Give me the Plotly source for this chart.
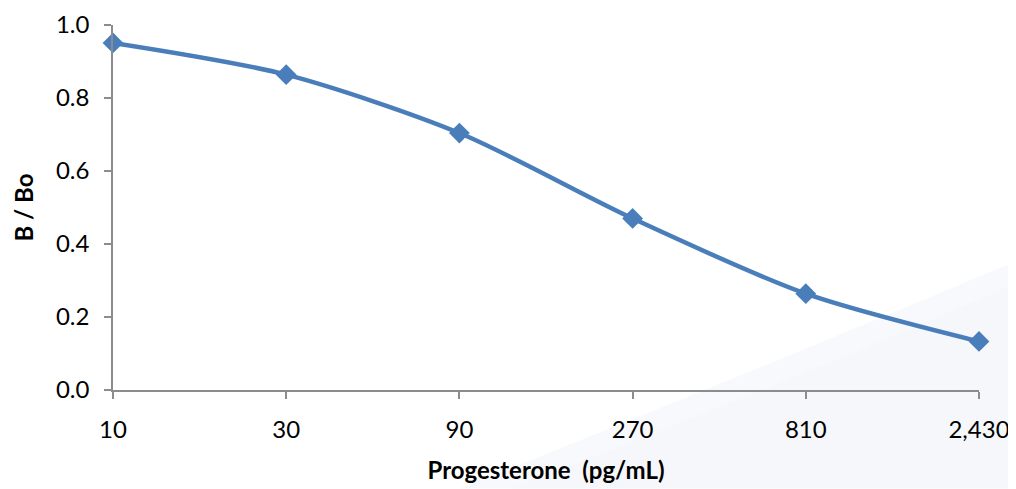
import math
import plotly.graph_objects as go

concentration = [10, 30, 90, 270, 810, 2430]
b_bo = [0.951, 0.864, 0.704, 0.470, 0.264, 0.133]
x_tick_labels = ["10", "30", "90", "270", "810", "2,430"]
y_ticks = [0.0, 0.2, 0.4, 0.6, 0.8, 1.0]

fig = go.Figure()

# very subtle background swoosh (soft layered edges)
for path, col in [
    ("M 0.40 -0.27 Q 0.74 0.05 1.05 0.36 L 1.05 -0.27 Z", "rgba(248,249,252,1)"),
    ("M 0.46 -0.27 Q 0.78 0.02 1.05 0.30 L 1.05 -0.27 Z", "rgba(245,247,251,1)"),
]:
    fig.add_shape(type="path", xref="paper", yref="paper", path=path,
                  fillcolor=col, line=dict(width=0), layer="below")

fig.add_trace(go.Scatter(
    x=concentration, y=b_bo, mode="lines+markers",
    line=dict(color="#4A7EBB", width=4.5, shape="spline", smoothing=0.8),
    marker=dict(symbol="diamond", size=16, color="#4A7EBB"),
    showlegend=False, cliponaxis=False,
))

font_family = "Lato, 'Open Sans', sans-serif"
fig.update_layout(
    width=1008, height=481,
    margin=dict(l=105, r=37, t=17, b=99, autoexpand=False),
    plot_bgcolor="rgba(0,0,0,0)", paper_bgcolor="white",
    font=dict(family=font_family, size=24, color="#000000"),
    xaxis=dict(
        type="log", range=[1.0 - 1e-6, math.log10(2430) + 1e-6], tickmode="array",
        tickvals=concentration, ticktext=x_tick_labels, automargin=False,
        tickfont=dict(size=24), ticklabelstandoff=10, ticklabeloverflow="allow",
        showgrid=False, zeroline=False, showline=True, linecolor="#8C8C8C", linewidth=1.5,
        ticks="outside", ticklen=7, tickcolor="#8C8C8C", tickwidth=1.5,
        title=dict(text="<b>Progesterone\u00a0 (pg/mL)</b>", font=dict(size=24), standoff=21),
    ),
    yaxis=dict(
        range=[-1e-6, 1.0 + 1e-6], tickmode="array", tickvals=y_ticks,
        ticktext=[f"{v:.1f}" for v in y_ticks], automargin=False,
        tickfont=dict(size=24), ticklabelstandoff=10, ticklabeloverflow="allow",
        showgrid=False, zeroline=False, showline=True, linecolor="#8C8C8C", linewidth=1.5,
        ticks="outside", ticklen=7, tickcolor="#8C8C8C", tickwidth=1.5,
        title=dict(text="<b>B / Bo</b>", font=dict(size=24), standoff=16),
    ),
)

fig.write_html("out.html")
